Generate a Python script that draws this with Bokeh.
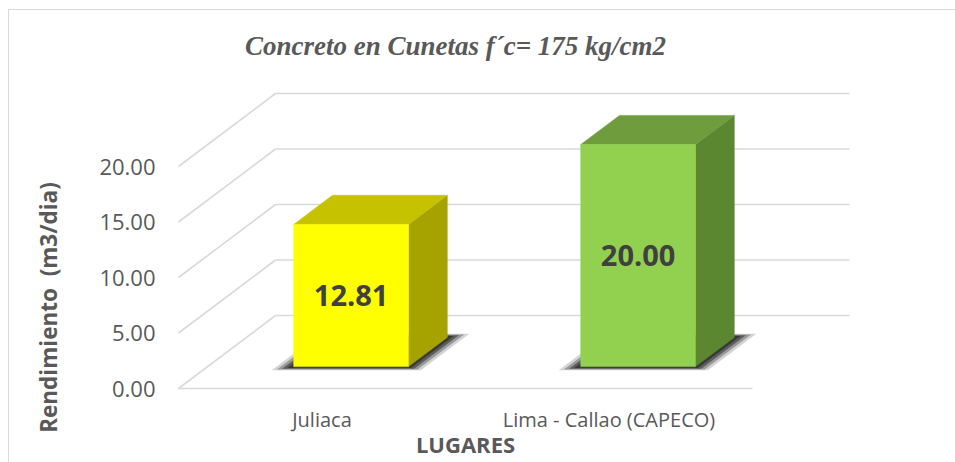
import math
from bokeh.plotting import figure
from bokeh.models import FixedTicker, Label, PrintfTickFormatter
from bokeh.embed import file_html
from bokeh.resources import INLINE
from bokeh.core.properties import value

# ---- data ----
categories = ["Juliaca", "Lima - Callao (CAPECO)"]
values = [12.81, 20.00]
value_labels = ["12.81", "20.00"]
y_ticks = [0, 5, 10, 15, 20]
front_colors = ["#ffff00", "#92d050"]
top_colors = ["#c6c200", "#6f9c3d"]
side_colors = ["#a6a300", "#5c8731"]
title_text = "Concreto en Cunetas f\u00b4c= 175 kg/cm2"
y_title = "Rendimiento \u00a0(m3/dia)"
x_title = "LUGARES"

# ---- layout (canvas pixel geometry) ----
W, H = 955, 462
X0_PX, CAT_PX = 178, 287          # front floor left edge, px per category
Y0_PX, UNIT_PX = 388, 11.1        # front floor y, px per value unit
DEPTH_DX_PX, DEPTH_DY_PX = 97, 73 # oblique depth offset of the back wall

def dx(px):
    return (px - X0_PX) / CAT_PX

def dy(py):
    return (Y0_PX - py) / UNIT_PX

DX = DEPTH_DX_PX / CAT_PX
DY = DEPTH_DY_PX / UNIT_PX
BAR_W = 0.40      # bar width in category units
BAR_F = 0.30      # depth fraction of bar front face
BAR_D = 0.40      # bar depth fraction
n = len(categories)

p = figure(width=W, height=H, output_backend="svg", toolbar_location=None,
           x_range=(dx(0), dx(W)), y_range=(dy(H), dy(0)),
           min_border=0, min_border_left=0, min_border_right=0,
           min_border_top=0, min_border_bottom=0,
           background_fill_color="white", border_fill_color="white")
p.outline_line_color = None
p.xgrid.visible = False
p.ygrid.visible = False

# chart area border (top and left edges visible)
border_col = "#d9d9d9"
p.line([dx(8), dx(W)], [dy(9), dy(9)], line_color=border_col, line_width=1)
p.line([dx(8), dx(8)], [dy(9), dy(H)], line_color=border_col, line_width=1)

grid_col = "#d9d9d9"
for t in y_ticks:
    # back wall gridlines
    p.line([DX, n + DX], [t + DY, t + DY], line_color=grid_col, line_width=1.6)
    # side wall diagonals
    p.line([0, DX], [t, t + DY], line_color=grid_col, line_width=1.6)
# floor front edge
p.line([0, n], [0, 0], line_color=grid_col, line_width=1.6)

# soft shadows under the bars
for i, v in enumerate(values):
    c = i + 0.5
    for e, ef, a in [(0.06, 0.05, 0.2), (0.045, 0.04, 0.35), (0.03, 0.03, 0.55), (0.015, 0.02, 0.7)]:
        xs = [c - BAR_W / 2 - e + (BAR_F - ef) * DX,
              c + BAR_W / 2 + e + (BAR_F - ef) * DX,
              c + BAR_W / 2 + e + (BAR_F + BAR_D + ef) * DX,
              c - BAR_W / 2 - e + (BAR_F + BAR_D + ef) * DX]
        ys = [(BAR_F - ef) * DY, (BAR_F - ef) * DY,
              (BAR_F + BAR_D + ef) * DY, (BAR_F + BAR_D + ef) * DY]
        p.patch(xs, ys, fill_color="#2a2a2a", fill_alpha=a, line_color=None)

# 3D bars
for i, v in enumerate(values):
    c = i + 0.5
    l = c - BAR_W / 2 + BAR_F * DX
    r = c + BAR_W / 2 + BAR_F * DX
    b = BAR_F * DY
    t = v + BAR_F * DY
    ox, oy = BAR_D * DX, BAR_D * DY
    p.patch([r, r, r + ox, r + ox], [b, t, t + oy, b + oy],
            fill_color=side_colors[i], line_color=side_colors[i], line_width=0.5)
    p.patch([l, r, r + ox, l + ox], [t, t, t + oy, t + oy],
            fill_color=top_colors[i], line_color=top_colors[i], line_width=0.5)
    p.quad(left=l, right=r, bottom=b, top=t,
           fill_color=front_colors[i], line_color=front_colors[i], line_width=0.5)
    p.text(x=[(l + r) / 2], y=[(b + t) / 2], text=[value_labels[i]],
           text_font=value("Open Sans"), text_font_style="bold",
           text_font_size="29px", text_color="#404040",
           text_align="center", text_baseline="middle")

# axes fixed on the front edges of the floor / side wall
p.yaxis.fixed_location = 0
p.yaxis.ticker = FixedTicker(ticks=y_ticks)
p.yaxis.formatter = PrintfTickFormatter(format="%.2f")
p.yaxis.axis_line_color = None
p.yaxis.major_tick_line_color = None
p.yaxis.minor_tick_line_color = None
p.yaxis.major_label_standoff = 17
p.yaxis.major_label_text_font = "Open Sans"
p.yaxis.major_label_text_font_size = "22px"
p.yaxis.major_label_text_color = "#595959"

p.xaxis.fixed_location = 0
p.xaxis.ticker = FixedTicker(ticks=[i + 0.5 for i in range(n)])
p.xaxis.major_label_overrides = {i + 0.5: categories[i] for i in range(n)}
p.xaxis.axis_line_color = None
p.xaxis.major_tick_line_color = None
p.xaxis.minor_tick_line_color = None
p.xaxis.major_label_standoff = 11
p.xaxis.major_label_text_font = "Open Sans"
p.xaxis.major_label_text_font_size = "20px"
p.xaxis.major_label_text_color = "#595959"

# titles
p.add_layout(Label(x=dx(455), y=dy(45), text=title_text, text_font="Liberation Serif",
                   text_font_style="bold italic", text_font_size="27px",
                   text_color="#595959", text_align="center", text_baseline="middle"))
p.add_layout(Label(x=dx(48), y=dy(307), text=y_title, angle=math.pi / 2,
                   text_font="Open Sans", text_font_style="bold", text_font_size="22.5px",
                   text_color="#595959", text_align="center", text_baseline="middle"))
p.add_layout(Label(x=dx(465), y=dy(443), text=x_title,
                   text_font="Open Sans", text_font_style="bold", text_font_size="22px",
                   text_color="#595959", text_align="center", text_baseline="middle"))

open("out.html", "w").write(file_html(p, INLINE))
